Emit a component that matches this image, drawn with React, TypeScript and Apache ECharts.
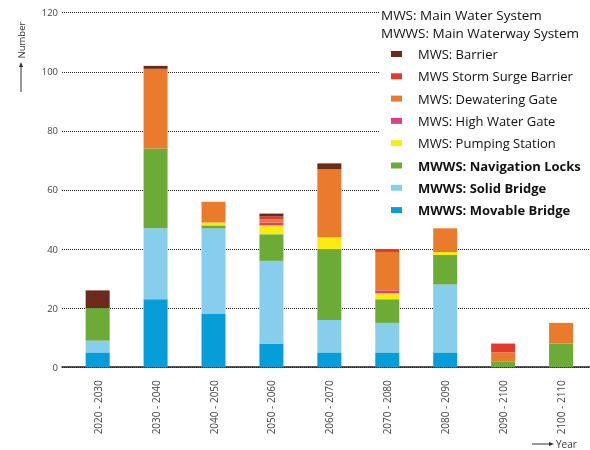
import React, { useEffect, useRef } from "react";
import * as echarts from "echarts";

const categories = [
  "2020 - 2030", "2030 - 2040", "2040 - 2050", "2050 - 2060", "2060 - 2070",
  "2070 - 2080", "2080 - 2090", "2090 - 2100", "2100 - 2110",
];
const movableBridge = [5, 23, 18, 8, 5, 5, 5, 0, 0];
const solidBridge = [4, 24, 29, 28, 11, 10, 23, 0, 0];
const navigationLocks = [11, 27, 1, 9, 24, 8, 10, 2, 8];
const pumpingStation = [0, 0, 1, 3, 4, 2, 1, 0, 0];
const highWaterGate = [0, 0, 0, 1, 0, 1, 0, 0, 0];
const dewateringGate = [0, 27, 7, 1, 23, 13, 8, 3, 7];
const stormSurgeBarrier = [0, 0, 0, 1, 0, 1, 0, 3, 0];
const barrier = [6, 1, 0, 1, 2, 0, 0, 0, 0];
const yTicks = { min: 0, max: 120, interval: 20 };

const seriesDefs = [
  { name: "MWWS: Movable Bridge", data: movableBridge, color: "#079DD9", bold: true },
  { name: "MWWS: Solid Bridge", data: solidBridge, color: "#87CEEC", bold: true },
  { name: "MWWS: Navigation Locks", data: navigationLocks, color: "#6DAB37", bold: true },
  { name: "MWS: Pumping Station", data: pumpingStation, color: "#FCEA10", bold: false },
  { name: "MWS: High Water Gate", data: highWaterGate, color: "#DC3F86", bold: false },
  { name: "MWS: Dewatering Gate", data: dewateringGate, color: "#EB7B2C", bold: false },
  { name: "MWS Storm Surge Barrier", data: stormSurgeBarrier, color: "#E23B2E", bold: false },
  { name: "MWS: Barrier", data: barrier, color: "#6B2A1C", bold: false },
];
const legendOrder = [
  "MWS: Barrier", "MWS Storm Surge Barrier", "MWS: Dewatering Gate", "MWS: High Water Gate",
  "MWS: Pumping Station", "MWWS: Navigation Locks", "MWWS: Solid Bridge", "MWWS: Movable Bridge",
];

export default function App() {
  const ref = useRef<HTMLDivElement>(null);
  useEffect(() => {
    if (!ref.current) return;
    const chart = echarts.init(ref.current, null, { renderer: "svg" });
    const font = "'Open Sans', sans-serif";
    const gridTop = 12.7;
    const gridHeight = 354.5;
    chart.setOption({
      animation: false,
      textStyle: { fontFamily: font },
      grid: [
        { left: 68.7, width: 535, top: gridTop, height: gridHeight },
        { left: 62, right: 0, top: gridTop, height: gridHeight },
      ],
      xAxis: [
        {
          type: "category",
          gridIndex: 0,
          data: categories,
          axisLine: { show: false },
          axisTick: { show: false },
          axisLabel: { rotate: 90, margin: 13, fontSize: 10, color: "#444", fontFamily: font },
        },
        {
          type: "value",
          gridIndex: 1,
          min: 0,
          max: 1,
          axisLine: { show: true, lineStyle: { color: "#222", width: 1.5 } },
          axisTick: { show: false },
          axisLabel: { show: false },
          splitLine: { show: false },
        },
      ],
      yAxis: [
        {
          type: "value",
          gridIndex: 0,
          ...yTicks,
          show: false,
          splitLine: { show: false },
        },
        {
          type: "value",
          gridIndex: 1,
          ...yTicks,
          axisLine: { show: false },
          axisTick: { show: false },
          axisLabel: { fontSize: 9.5, color: "#444", margin: 4, fontFamily: font },
          splitLine: { show: true, lineStyle: { color: "#222", type: [1, 1], width: 1 } },
        },
      ],
      legend: {
        orient: "vertical",
        left: 391,
        top: 46,
        icon: "rect",
        itemWidth: 11,
        itemHeight: 6,
        itemGap: 6.3,
        padding: 0,
        textStyle: { fontSize: 13, color: "#111", lineHeight: 16, padding: [0, 0, 0, 11], fontFamily: font },
        data: legendOrder.map((n) => {
          const d = seriesDefs.find((s) => s.name === n)!;
          return { name: n, textStyle: { fontWeight: d.bold ? "bold" : "normal" } };
        }),
      },
      title: {
        text: "MWS: Main Water System\nMWWS: Main Waterway System",
        left: 381,
        top: 6,
        padding: 0,
        textStyle: { fontSize: 13.5, fontWeight: "normal", color: "#111", lineHeight: 18, fontFamily: font },
      },
      graphic: [
        { type: "rect", z: 3, shape: { x: 379, y: 0, width: 211, height: 222 }, style: { fill: "#fff" } },
        {
          type: "text",
          x: 21,
          y: 40,
          rotation: Math.PI / 2,
          style: { text: "Number", fontSize: 9.5, fill: "#333", fontFamily: font, align: "center", verticalAlign: "middle" },
        },
        { type: "line", shape: { x1: 21, y1: 92, x2: 21, y2: 66 }, style: { stroke: "#333", lineWidth: 1 } },
        { type: "polygon", shape: { points: [[21, 62], [19, 67], [23, 67]] }, style: { fill: "#333" } },
        { type: "line", shape: { x1: 532, y1: 444, x2: 550, y2: 444 }, style: { stroke: "#333", lineWidth: 1 } },
        { type: "polygon", shape: { points: [[554, 444], [549, 442], [549, 446]] }, style: { fill: "#333" } },
        {
          type: "text",
          x: 556,
          y: 444,
          style: { text: "Year", fontSize: 10, fill: "#333", fontFamily: font, verticalAlign: "middle" },
        },
      ],
      series: seriesDefs.map((s) => ({
        name: s.name,
        type: "bar",
        stack: "total",
        xAxisIndex: 0,
        yAxisIndex: 0,
        barWidth: 24,
        data: s.data,
        itemStyle: { color: s.color },
      })),
    });
    return () => chart.dispose();
  }, []);
  return <div ref={ref} style={{ position: "fixed", left: 0, top: 0, width: 590, height: 450 }} />;
}
